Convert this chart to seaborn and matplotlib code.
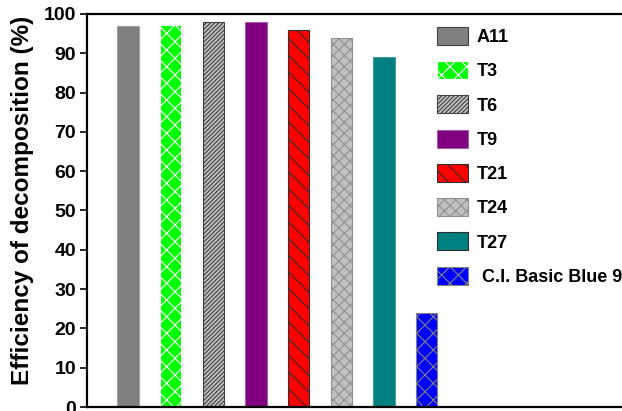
import matplotlib
matplotlib.use('Agg')
import matplotlib.pyplot as plt
from matplotlib.patches import Patch
import seaborn as sns

# ------------------------------------------------------------
# data
# ------------------------------------------------------------
samples = ['A11', 'T3', 'T6', 'T9', 'T21', 'T24', 'T27', 'C.I. Basic Blue 9']
efficiency = [97, 97.2, 98, 98, 96, 94, 89, 24]
legend_labels = ['A11', 'T3', 'T6', 'T9', 'T21', 'T24', 'T27', ' C.I. Basic Blue 9']

fill_colors = ['#808080', '#00ff00', '#c0c0c0', '#800080',
               '#ff0000', '#c0c0c0', '#008080', '#0000ff']
edge_colors = ['#a0a0a0', '#ffffff', '#404040', '#a060a0',
               '#303030', '#909090', '#40a0a0', '#808080']
hatches = ['', 'xx', '////////', '', '\\\\', 'xxx', '', 'xx']
legend_edges = ['#404040', '#ffffff', '#404040', '#a060a0',
                '#303030', '#909090', '#303030', '#808080']

# ------------------------------------------------------------
# style
# ------------------------------------------------------------
sns.set_style('ticks')
plt.rcParams['font.family'] = ['Liberation Sans', 'DejaVu Sans']
plt.rcParams['hatch.linewidth'] = 0.8
plt.rcParams['text.color'] = 'black'
plt.rcParams['ytick.color'] = 'black'
plt.rcParams['axes.labelcolor'] = 'black'

fig = plt.figure(figsize=(6.22, 4.11), dpi=100)
ax = fig.add_axes([87 / 622, 4 / 411, 1.0, 393 / 411])

sns.barplot(x=samples, y=efficiency, hue=samples, palette=fill_colors,
            saturation=1, width=0.5, legend=False, ax=ax)

# hatch + edge per bar
for cont, ec, h in zip(ax.containers, edge_colors, hatches):
    for bar in cont:
        bar.set_edgecolor(ec)
        bar.set_hatch(h)
        bar.set_linewidth(0.8)

ax.set_xlim(-0.96, 13.61)
ax.set_ylim(0, 100)
ax.set_yticks(range(0, 101, 10))
ax.set_xticks([])
ax.set_xlabel('')

for lab in ax.get_yticklabels():
    lab.set_fontweight('bold')
    lab.set_fontsize(14)
    lab.set_color('black')
ax.tick_params(axis='y', length=5, width=1.2, direction='out', pad=3)

for side in ['left', 'bottom', 'top', 'right']:
    ax.spines[side].set_visible(True)
    ax.spines[side].set_linewidth(1.6)
    ax.spines[side].set_color('black')

ax.set_ylabel('Efficiency of decomposition (%)', fontsize=17.5,
              fontweight='bold', color='black')
ax.yaxis.set_label_coords(-53 / 622, 0.527)

handles = [Patch(facecolor=fc, edgecolor=ec, hatch=h, linewidth=0.8)
           for fc, ec, h in zip(fill_colors, legend_edges, hatches)]
ax.legend(handles=handles, labels=legend_labels, loc='upper left',
          bbox_to_anchor=(437 / 622, 1 - 27 / 411), bbox_transform=fig.transFigure,
          frameon=False, prop={'weight': 'bold', 'size': 13},
          handlelength=1.7, handleheight=1.15, handletextpad=0.5,
          labelspacing=0.84, borderpad=0, borderaxespad=0, labelcolor='black')

fig.savefig('out.png', dpi=100)
